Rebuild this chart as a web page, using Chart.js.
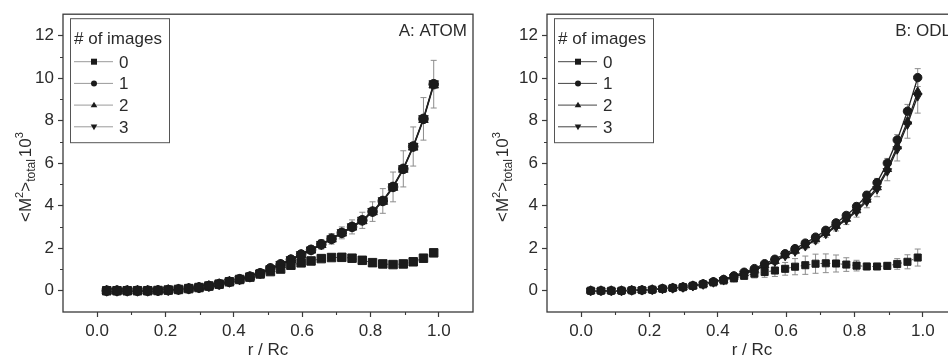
<!DOCTYPE html>
<html>
<head>
<meta charset="utf-8">
<script src="https://cdn.jsdelivr.net/npm/chart.js@4.4.1/dist/chart.umd.min.js"></script>
<style>
  html, body { margin: 0; padding: 0; background: #fff; overflow: hidden; width: 948px; height: 358px; }
  #wrap { position: relative; width: 948px; height: 358px; overflow: hidden; }
  canvas { position: absolute; top: 0; }
  #atom { left: 0; }
  #odl { left: 474px; }
</style>
</head>
<body>
<div id="wrap">
  <canvas id="atom" width="480" height="358"></canvas>
  <canvas id="odl" width="490" height="358"></canvas>
</div>
<script>
// Radial position of each bin, r / Rc
const rOverRc = [0.028, 0.058, 0.088, 0.118, 0.148, 0.178, 0.208, 0.238, 0.268, 0.298, 0.327,
                 0.357, 0.387, 0.417, 0.447, 0.477, 0.507, 0.537, 0.567, 0.597, 0.626, 0.656,
                 0.686, 0.716, 0.746, 0.776, 0.806, 0.836, 0.866, 0.896, 0.925, 0.955, 0.985];

// Number-of-images legend labels
const imageCounts = ['0', '1', '2', '3'];

// Tick positions
const yMajorTicks = [0, 2, 4, 6, 8, 10, 12];
const yMinorTicks = [1, 3, 5, 7, 9, 11];
const xMajorTicks = [0.0, 0.2, 0.4, 0.6, 0.8, 1.0];
const xMinorTicks = [0.1, 0.3, 0.5, 0.7, 0.9];

// Panel A: ATOM  (<M^2>_total x 10^3)
const atomImages0 = [0, 0, 0, 0, 0, 0.01, 0.03, 0.06, 0.10, 0.15, 0.22, 0.31, 0.42, 0.53, 0.64, 0.79, 0.90,
                     1.02, 1.20, 1.31, 1.40, 1.51, 1.56, 1.57, 1.53, 1.43, 1.32, 1.26, 1.23, 1.26, 1.36, 1.53, 1.78];
const atomImages1 = [0, 0, 0, 0, 0, 0.01, 0.03, 0.06, 0.10, 0.15, 0.22, 0.31, 0.42, 0.54, 0.66, 0.82, 1.05,
                     1.24, 1.46, 1.70, 1.92, 2.18, 2.44, 2.72, 3.00, 3.31, 3.72, 4.22, 4.88, 5.73, 6.78, 8.08, 9.71];
const atomImages2 = [0, 0, 0, 0, 0, 0.01, 0.03, 0.06, 0.10, 0.15, 0.22, 0.31, 0.42, 0.53, 0.65, 0.81, 1.03,
                     1.22, 1.44, 1.68, 1.90, 2.16, 2.42, 2.70, 2.98, 3.28, 3.70, 4.19, 4.85, 5.70, 6.74, 8.04, 9.66];
const atomImages3 = [0, 0, 0, 0, 0, 0.01, 0.03, 0.06, 0.10, 0.15, 0.22, 0.31, 0.42, 0.54, 0.66, 0.83, 1.04,
                     1.25, 1.47, 1.71, 1.93, 2.19, 2.45, 2.74, 3.02, 3.33, 3.74, 4.24, 4.90, 5.75, 6.80, 8.10, 9.74];
const atomErr1 = [0.01, 0.01, 0.01, 0.01, 0.01, 0.01, 0.01, 0.02, 0.02, 0.02, 0.03, 0.04, 0.05, 0.06, 0.07, 0.08, 0.10,
                  0.12, 0.13, 0.16, 0.18, 0.22, 0.25, 0.28, 0.33, 0.38, 0.46, 0.58, 0.70, 0.85, 0.92, 1.00, 1.12];

// Panel B: ODL
const odlImages0 = [0, 0, 0, 0, 0.02, 0.03, 0.05, 0.09, 0.13, 0.17, 0.23, 0.30, 0.39, 0.48, 0.58, 0.70, 0.80,
                    0.88, 0.95, 1.03, 1.13, 1.20, 1.27, 1.29, 1.28, 1.23, 1.18, 1.14, 1.14, 1.17, 1.26, 1.36, 1.56];
const odlImages1 = [0, 0, 0, 0, 0.02, 0.03, 0.05, 0.10, 0.13, 0.17, 0.24, 0.32, 0.42, 0.53, 0.70, 0.87, 1.04,
                    1.27, 1.48, 1.74, 1.98, 2.24, 2.52, 2.84, 3.19, 3.54, 3.96, 4.49, 5.08, 6.00, 7.09, 8.44, 10.02];
const odlImages2 = [0, 0, 0, 0, 0.02, 0.03, 0.05, 0.09, 0.13, 0.17, 0.23, 0.31, 0.41, 0.51, 0.66, 0.82, 0.98,
                    1.20, 1.40, 1.67, 1.88, 2.14, 2.42, 2.72, 3.05, 3.38, 3.78, 4.28, 4.86, 5.72, 6.78, 7.95, 9.35];
const odlImages3 = [0, 0, 0, 0, 0.02, 0.03, 0.05, 0.09, 0.12, 0.16, 0.22, 0.30, 0.40, 0.50, 0.64, 0.80, 0.95,
                    1.17, 1.37, 1.64, 1.85, 2.10, 2.38, 2.68, 3.00, 3.33, 3.72, 4.20, 4.78, 5.62, 6.65, 7.82, 9.15];
const odlErr0 = [0.01, 0.01, 0.01, 0.01, 0.02, 0.02, 0.03, 0.03, 0.04, 0.05, 0.05, 0.06, 0.08, 0.10, 0.12, 0.15, 0.20,
                 0.25, 0.28, 0.30, 0.38, 0.43, 0.45, 0.44, 0.40, 0.32, 0.25, 0.15, 0.12, 0.15, 0.25, 0.33, 0.40];
const odlErr1 = [0.01, 0.01, 0.01, 0.01, 0.01, 0.01, 0.01, 0.02, 0.02, 0.02, 0.02, 0.03, 0.03, 0.04, 0.04, 0.05, 0.05,
                 0.06, 0.07, 0.08, 0.09, 0.10, 0.11, 0.12, 0.13, 0.14, 0.16, 0.18, 0.20, 0.22, 0.25, 0.32, 0.42];
const odlErr3 = [0.01, 0.01, 0.01, 0.01, 0.01, 0.02, 0.02, 0.02, 0.03, 0.03, 0.04, 0.04, 0.05, 0.06, 0.07, 0.08, 0.09,
                 0.09, 0.10, 0.10, 0.12, 0.13, 0.15, 0.17, 0.19, 0.22, 0.26, 0.30, 0.36, 0.45, 0.55, 0.65, 0.80];

const FONT = "'Liberation Sans', Arial, Helvetica, sans-serif";
const INK = '#2b2b2b';
Chart.defaults.font.family = FONT;
Chart.defaults.font.size = 17;
Chart.defaults.color = INK;

const markerStyles = [
  { style: 'rect', rotation: 0 },
  { style: 'circle', rotation: 0 },
  { style: 'triangle', rotation: 0 },
  { style: 'triangle', rotation: 180 }
];

function toPoints(values) {
  return values.map((v, i) => ({ x: rOverRc[i], y: v }));
}

function buildDatasets(seriesList, errList, radii) {
  return seriesList.map((values, i) => ({
    label: imageCounts[i],
    data: toPoints(values),
    err: errList[i],
    showLine: true,
    borderColor: i === 0 ? '#555' : '#222',
    borderWidth: i === 0 ? 1 : 1.3,
    borderDash: i === 0 ? [2, 2] : [],
    pointStyle: markerStyles[i].style,
    rotation: markerStyles[i].rotation,
    pointRadius: radii[i],
    pointBackgroundColor: '#1b1b1b',
    pointBorderColor: '#1b1b1b',
    pointBorderWidth: 1,
    tension: 0
  }));
}

// small marker for the legend box
function drawMarker(ctx, style, rotation, x, y, r) {
  ctx.beginPath();
  if (style === 'rect') {
    ctx.rect(x - r, y - r, 2 * r, 2 * r);
  } else if (style === 'circle') {
    ctx.arc(x, y, r, 0, Math.PI * 2);
  } else {
    const s = rotation ? -1 : 1;
    ctx.moveTo(x, y - s * r * 1.15);
    ctx.lineTo(x + r * 1.1, y + s * r * 0.75);
    ctx.lineTo(x - r * 1.1, y + s * r * 0.75);
    ctx.closePath();
  }
  ctx.fill();
}

const decor = {
  id: 'decor',
  beforeDatasetsDraw(chart) {
    const { ctx, chartArea: a } = chart;
    const xs = chart.scales.x, ys = chart.scales.y;
    ctx.save();
    ctx.beginPath();
    ctx.rect(a.left, a.top, a.right - a.left, a.bottom - a.top);
    ctx.clip();
    ctx.strokeStyle = '#8c8c8c';
    ctx.lineWidth = 1;
    chart.data.datasets.forEach(ds => {
      if (!ds.err) return;
      ds.data.forEach((p, j) => {
        const e = ds.err[j];
        if (!e) return;
        const px = xs.getPixelForValue(p.x);
        const yTop = ys.getPixelForValue(p.y + e);
        const yBot = ys.getPixelForValue(p.y - e);
        ctx.beginPath();
        ctx.moveTo(px, yTop); ctx.lineTo(px, yBot);
        ctx.moveTo(px - 3, yTop); ctx.lineTo(px + 3, yTop);
        ctx.moveTo(px - 3, yBot); ctx.lineTo(px + 3, yBot);
        ctx.stroke();
      });
    });
    ctx.restore();
  },
  afterDraw(chart, args, o) {
    const { ctx, chartArea: a } = chart;
    const xs = chart.scales.x, ys = chart.scales.y;
    ctx.save();

    // frame
    ctx.strokeStyle = '#3a3a3a';
    ctx.lineWidth = 1.3;
    ctx.strokeRect(a.left, a.top, a.right - a.left, a.bottom - a.top);

    // minor ticks
    ctx.lineWidth = 1.1;
    ctx.beginPath();
    yMinorTicks.forEach(v => {
      const py = Math.round(ys.getPixelForValue(v)) + 0.5;
      ctx.moveTo(a.left - 3, py); ctx.lineTo(a.left, py);
    });
    xMinorTicks.forEach(v => {
      const px = Math.round(xs.getPixelForValue(v)) + 0.5;
      ctx.moveTo(px, a.bottom); ctx.lineTo(px, a.bottom + 3);
    });
    ctx.stroke();

    // legend box
    const bx = a.left + 7, by = a.top + 4, bw = 99, bh = 124;
    ctx.fillStyle = '#fff';
    ctx.fillRect(bx, by, bw, bh);
    ctx.strokeStyle = '#555';
    ctx.lineWidth = 1;
    ctx.strokeRect(bx + 0.5, by + 0.5, bw, bh);
    ctx.fillStyle = INK;
    ctx.font = '17px ' + FONT;
    ctx.textAlign = 'left';
    ctx.textBaseline = 'alphabetic';
    ctx.fillText('# of images', bx + 4, by + 26);
    chart.data.datasets.forEach((ds, i) => {
      const cy = by + 43 + i * 21.7;
      ctx.strokeStyle = o.legendLine;
      ctx.lineWidth = 1;
      ctx.beginPath();
      ctx.moveTo(bx + 4, cy + 0.5); ctx.lineTo(bx + 43, cy + 0.5);
      ctx.stroke();
      ctx.fillStyle = '#1b1b1b';
      drawMarker(ctx, ds.pointStyle, ds.rotation, bx + 24, cy + 0.5, ds.pointStyle === 'circle' ? 3 : 3);
      ctx.fillStyle = INK;
      ctx.fillText(ds.label, bx + 49, cy + 6.5);
    });

    // panel tag
    ctx.textAlign = 'right';
    ctx.fillText(o.tag, a.right - 6, a.top + 22);

    // x-axis title
    ctx.textAlign = 'center';
    ctx.fillText('r / Rc', (a.left + a.right) / 2, 355);

    // y-axis title: <M^2>_total 10^3
    ctx.translate(o.yTitleX, 222);
    ctx.rotate(-Math.PI / 2);
    ctx.textAlign = 'left';
    let cx = 0;
    const put = (txt, size, dy) => {
      ctx.font = size + 'px ' + FONT;
      ctx.fillText(txt, cx, dy);
      cx += ctx.measureText(txt).width;
    };
    put('<M', 17, 0);
    put('2', 11, -8);
    put('>', 17, 0);
    put('total', 12, 4);
    cx += 2;
    put('10', 17, 0);
    put('3', 11, -8);
    ctx.restore();
  }
};

function makeChart(id, datasets, yAxisWidth, tag, yTitleX, legendLine) {
  return new Chart(document.getElementById(id), {
    type: 'scatter',
    data: { datasets },
    options: {
      responsive: false,
      animation: false,
      devicePixelRatio: 1,
      layout: { padding: { top: 10, right: 7, left: 0, bottom: 0 } },
      plugins: {
        legend: { display: false },
        tooltip: { enabled: false },
        decor: { tag, yTitleX, legendLine }
      },
      scales: {
        x: {
          type: 'linear',
          min: -0.1,
          max: 1.1,
          afterFit: s => { s.height = 46; },
          afterBuildTicks: s => { s.ticks = xMajorTicks.map(v => ({ value: v })); },
          ticks: { padding: 4, callback: v => v.toFixed(1), maxRotation: 0, autoSkip: false, color: INK },
          grid: { display: true, drawOnChartArea: false, drawTicks: true, tickLength: 5, tickColor: '#3a3a3a', tickWidth: 1.2 },
          border: { display: false }
        },
        y: {
          type: 'linear',
          min: -1,
          max: 13,
          afterFit: s => { s.width = yAxisWidth; },
          afterBuildTicks: s => { s.ticks = yMajorTicks.map(v => ({ value: v })); },
          ticks: { padding: 4, callback: v => String(v), autoSkip: false, color: INK },
          grid: { display: true, drawOnChartArea: false, drawTicks: true, tickLength: 5, tickColor: '#3a3a3a', tickWidth: 1.2 },
          border: { display: false }
        }
      }
    },
    plugins: [decor]
  });
}

makeChart('atom',
  buildDatasets([atomImages0, atomImages1, atomImages2, atomImages3], [null, atomErr1, null, null], [6, 4.8, 5.5, 5.5]),
  63, 'A: ATOM', 31, '#9a9a9a');

makeChart('odl',
  buildDatasets([odlImages0, odlImages1, odlImages2, odlImages3], [odlErr0, odlErr1, null, odlErr3], [5, 4.2, 5, 5]),
  73, 'B: ODL', 34, '#444');
</script>
</body>
</html>
